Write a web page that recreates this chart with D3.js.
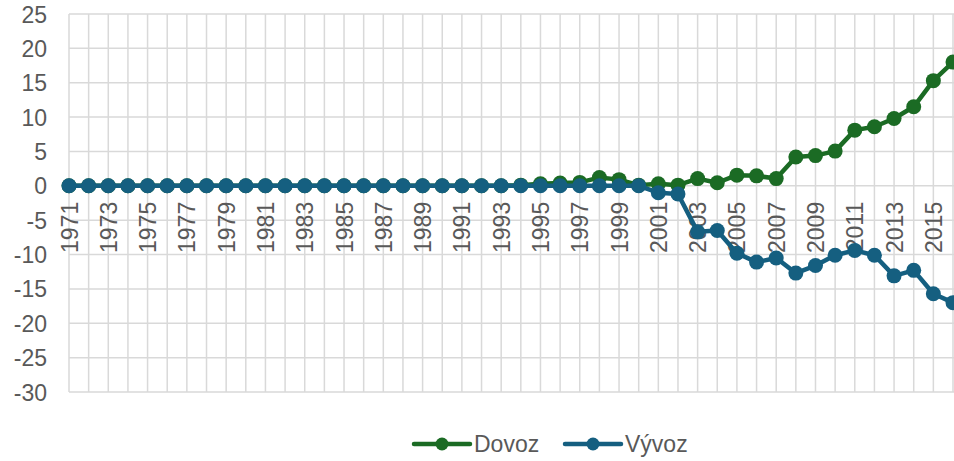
<!DOCTYPE html>
<html>
<head>
<meta charset="utf-8">
<script src="https://cdn.jsdelivr.net/npm/d3@7"></script>
<style>
  html, body { margin: 0; padding: 0; background: #fff; }
  svg { display: block; }
</style>
</head>
<body>
<svg id="chart" width="954" height="461"></svg>
<script>
// Years 1971–2016
const years = d3.range(1971, 2017);

// Dovoz (import)
const dovoz = [
  0, 0, 0, 0, 0, 0, 0, 0, 0, 0,
  0, 0, 0, 0, 0, 0, 0, 0, 0, 0,
  0, 0, 0, 0.1, 0.3, 0.4, 0.5, 1.2, 0.9, 0.1,
  0.3, 0.1, 1.05, 0.45, 1.55, 1.45, 1.05, 4.2, 4.4, 5.05,
  8.1, 8.6, 9.8, 11.5, 15.3, 18.0
];

// Vývoz (export)
const vyvoz = [
  0, 0, 0, 0, 0, 0, 0, 0, 0, 0,
  0, 0, 0, 0, 0, 0, 0, 0, 0, 0,
  0, 0, 0, 0, 0, 0, 0, 0, 0, 0,
  -1.0, -1.2, -6.7, -6.5, -9.8, -11.1, -10.5, -12.7, -11.6, -10.1,
  -9.4, -10.1, -13.1, -12.3, -15.7, -17.0
];

const yTicks = [25, 20, 15, 10, 5, 0, -5, -10, -15, -20, -25, -30];
const xLabelYears = years.filter(v => (v - 1971) % 2 === 0);

const seriesNames = ["Dovoz", "Vývoz"];
const seriesColors = ["#1b6b24", "#155f80"];

const W = 954, H = 461;
const plotLeft = 69, plotTop = 14, plotBottom = 392;
const x = d3.scalePoint().domain(years).range([plotLeft, 953]);
const y = d3.scaleLinear().domain([-30, 25]).range([plotBottom, plotTop]);

const svg = d3.select("#chart");
const font = "'Liberation Sans', Arial, sans-serif";
const fontSize = 23;
const textColor = "#595959";
const gridColor = "#d9d9d9";

svg.append("defs").append("clipPath").attr("id", "plotClip")
  .append("rect").attr("x", 0).attr("y", 0).attr("width", W).attr("height", plotBottom + 20);

// Gridlines
const grid = svg.append("g");
grid.selectAll("line.h").data(yTicks).join("line")
  .attr("class", "h")
  .attr("x1", plotLeft).attr("x2", W)
  .attr("y1", d => y(d)).attr("y2", d => y(d))
  .attr("stroke", gridColor).attr("stroke-width", 1.5);
grid.selectAll("line.v").data(years).join("line")
  .attr("class", "v")
  .attr("x1", d => x(d)).attr("x2", d => x(d))
  .attr("y1", plotTop).attr("y2", plotBottom)
  .attr("stroke", gridColor).attr("stroke-width", 1.5);

// Y axis labels (plain hyphen for negatives)
const yAxis = d3.axisLeft(y).tickValues(yTicks).tickSize(0).tickPadding(0)
  .tickFormat(d => String(d));
const gy = svg.append("g").attr("transform", "translate(47,0)").call(yAxis);
gy.select(".domain").remove();
gy.selectAll("text")
  .style("font-family", font).style("font-size", fontSize + "px").attr("fill", textColor)
  .attr("text-anchor", "end").attr("dy", "0.35em").attr("x", 0);

// X axis labels at the zero line, rotated
const xAxis = d3.axisBottom(x).tickValues(xLabelYears).tickSize(0).tickPadding(0)
  .tickFormat(d => String(d));
const gx = svg.append("g").attr("transform", `translate(0,${y(0)})`).call(xAxis);
gx.select(".domain").remove();
gx.selectAll("text")
  .style("font-family", font).style("font-size", fontSize + "px").attr("fill", textColor)
  .attr("text-anchor", "end")
  .attr("transform", "rotate(-90)")
  .attr("x", -16).attr("y", 0).attr("dy", "0.35em");

// Series
const plot = svg.append("g").attr("clip-path", "url(#plotClip)");
const line = d3.line().x((d, i) => x(years[i])).y(d => y(d));
[dovoz, vyvoz].forEach((vals, si) => {
  const g = plot.append("g");
  g.append("path").datum(vals)
    .attr("d", line).attr("fill", "none")
    .attr("stroke", seriesColors[si]).attr("stroke-width", 4.5)
    .attr("stroke-linejoin", "round");
  g.selectAll("circle").data(vals).join("circle")
    .attr("cx", (d, i) => x(years[i])).attr("cy", d => y(d))
    .attr("r", 7.5).attr("fill", seriesColors[si]);
});

// Legend
const legend = svg.append("g").attr("transform", "translate(0,444)");
const legendX = [414, 565];
seriesNames.forEach((name, i) => {
  const g = legend.append("g").attr("transform", `translate(${legendX[i]},0)`);
  g.append("line").attr("x1", 0).attr("x2", 56).attr("y1", 0).attr("y2", 0)
    .attr("stroke", seriesColors[i]).attr("stroke-width", 4.5).attr("stroke-linecap", "round");
  g.append("circle").attr("cx", 28).attr("cy", 0).attr("r", 6.5).attr("fill", seriesColors[i]);
  g.append("text").attr("x", 60).attr("y", 0).attr("dy", "0.35em")
    .style("font-family", font).style("font-size", fontSize + "px").attr("fill", textColor)
    .text(name);
});
</script>
</body>
</html>
